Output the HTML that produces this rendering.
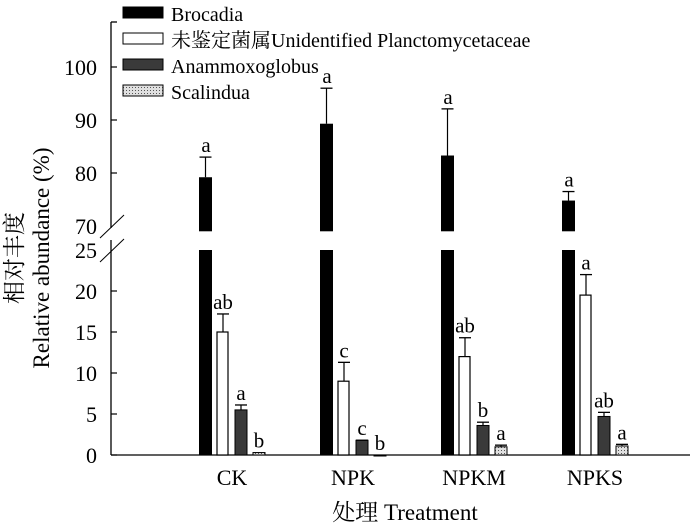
<!DOCTYPE html>
<html><head><meta charset="utf-8">
<style>
body{margin:0;background:#fff;}
svg text{font-family:"Liberation Serif","Noto Serif CJK SC",serif;fill:#000;}
</style></head>
<body>
<svg id="chart" width="700" height="524" xmlns="http://www.w3.org/2000/svg"></svg>
<script>
const categories=["CK","NPK","NPKM","NPKS"];
const brocadia=[79.2,89.3,83.3,74.8];
const brocadiaErr=[3.8,6.7,8.8,1.7];
const brocadiaLbl=["a","a","a","a"];
const unident=[15,9,12,19.5];
const unidentErr=[2.2,2.3,2.3,2.5];
const unidentLbl=["ab","c","ab","a"];
const anammox=[5.5,1.8,3.6,4.7];
const anammoxErr=[0.6,0,0.4,0.5];
const anammoxLbl=["a","c","b","ab"];
const scalindua=[0.3,0,1,1.1];
const scalinduaErr=[0,0,0.2,0.2];
const scalinduaLbl=["b","b","a","a"];
const lowerTicks=[0,5,10,15,20,25];
const upperTicks=[70,80,90,100];

const svg=document.getElementById('chart');
const NS="http://www.w3.org/2000/svg";
const FF='"Liberation Serif","Noto Serif CJK SC",serif';
const FL='"Liberation Serif",serif';
function el(t,a,p){const e=document.createElementNS(NS,t);for(const k in a)e.setAttribute(k,a[k]);(p||svg).appendChild(e);return e;}
const AX=111, Y0=455;
function yLow(v){return Y0-v*8.2;}
function yUp(v){return 226-(v-70)*5.3;}
function xCat(i){return 205+i*121;}

let a=el('line',{x1:AX,y1:240,x2:AX,y2:Y0,stroke:'#000','stroke-width':1.3});

a=el('line',{x1:AX,y1:22,x2:AX,y2:228,stroke:'#000','stroke-width':1.3});

el('line',{x1:AX,y1:22,x2:AX+6,y2:22,stroke:'#000','stroke-width':1.3});
a=el('line',{x1:AX,y1:Y0,x2:690,y2:Y0,stroke:'#000','stroke-width':1.3});

el('line',{x1:100,y1:238,x2:124,y2:215,stroke:'#000','stroke-width':1});
el('line',{x1:100,y1:262,x2:124,y2:239,stroke:'#000','stroke-width':1});
lowerTicks.forEach(v=>{const y=yLow(v);
 if(v<25) el('line',{x1:AX,y1:y,x2:AX+6,y2:y,stroke:'#000','stroke-width':1.2});
 const t=el('text',{x:AX-14,y:y+8,'text-anchor':'end','font-size':22,'font-family':FL});t.textContent=v;
 });
upperTicks.forEach(v=>{const y=yUp(v);
 if(v>70) el('line',{x1:AX,y1:y,x2:AX+6,y2:y,stroke:'#000','stroke-width':1.2});
 const t=el('text',{x:AX-14,y:y+8,'text-anchor':'end','font-size':22,'font-family':FL});t.textContent=v;
 });

const defs=el('defs',{});
const pat=el('pattern',{id:'dots',width:3,height:3,patternUnits:'userSpaceOnUse'},defs);
el('rect',{width:3,height:3,fill:'#e0e0e0'},pat);
el('rect',{width:1,height:1,fill:'#555'},pat);

function errbar(x,yTop,yErr){el('line',{x1:x,y1:yTop,x2:x,y2:yErr,stroke:'#000','stroke-width':1.2});
 el('line',{x1:x-6,y1:yErr,x2:x+6,y2:yErr,stroke:'#000','stroke-width':1.3});}
function lbl(x,y,s){const t=el('text',{x:x,y:y,'text-anchor':'middle','font-size':21,'font-family':FL});t.textContent=s;
 }

categories.forEach((c,i)=>{
 const x=xCat(i);
 let b=el('rect',{x:x-6,y:yLow(25),width:13,height:Y0-yLow(25),fill:'#000'});
 
 b=el('rect',{x:x-6,y:yUp(brocadia[i]),width:13,height:yUp(69)-yUp(brocadia[i]),fill:'#000'});
 
 const ye=yUp(brocadia[i]+brocadiaErr[i]);errbar(x+0.5,yUp(brocadia[i]),ye);lbl(x+1,ye-5,brocadiaLbl[i]);
 let ux=x+18;
 b=el('rect',{x:ux-6,y:yLow(unident[i]),width:11,height:Y0-yLow(unident[i]),fill:'#fff',stroke:'#000','stroke-width':1.2});
 
 let ye2=yLow(unident[i]+unidentErr[i]);errbar(ux,yLow(unident[i]),ye2);lbl(ux,ye2-5,unidentLbl[i]);
 let ax=x+36;
 b=el('rect',{x:ax-6,y:yLow(anammox[i]),width:12,height:Y0-yLow(anammox[i]),fill:'#3a3a3a',stroke:'#000','stroke-width':1});
 
 let ye3=yLow(anammox[i]+anammoxErr[i]);errbar(ax,yLow(anammox[i]),ye3);lbl(ax,ye3-5,anammoxLbl[i]);
 let sx=x+54;
 b=el('rect',{x:sx-6,y:yLow(scalindua[i]),width:12,height:Math.max(1,Y0-yLow(scalindua[i])),fill:'url(#dots)',stroke:'#000','stroke-width':1});
 
 let ye4=yLow(scalindua[i]+scalinduaErr[i]);if(scalinduaErr[i]>0)errbar(sx,yLow(scalindua[i]),ye4);lbl(sx,ye4-5,scalinduaLbl[i]);
 const t=el('text',{x:x+27,y:485,'text-anchor':'middle','font-size':22,'font-family':FL});t.textContent=c;
 
});

let t=el('text',{x:405,y:520,'text-anchor':'middle','font-size':23,'font-family':FF});t.textContent="处理 Treatment";

t=el('text',{x:0,y:0,'text-anchor':'middle','font-size':23,'font-family':FF,transform:'translate(22,258) rotate(-90)'});t.textContent="相对丰度";

t=el('text',{x:0,y:0,'text-anchor':'middle','font-size':23,'font-family':FL,transform:'translate(49,258) rotate(-90)'});t.textContent="Relative abundance (%)";


const legCn=["","未鉴定菌属","",""];
const legEn=["Brocadia","Unidentified Planctomycetaceae","Anammoxoglobus","Scalindua"];
const legFill=['#000','#fff','#3a3a3a','url(#dots)'];
legEn.forEach((l,i)=>{const y=4+i*26;
 const r=el('rect',{x:123,y:y+3,width:40,height:11,fill:legFill[i],stroke:'#000','stroke-width':1});
 
 const tx=el('text',{x:171,y:y+17,'font-size':20,'font-family':FL});
 
 if(legCn[i]){const s=el('tspan',{'font-family':'"Noto Serif CJK SC",serif'},tx);s.textContent=legCn[i];}
 const s2=el('tspan',{'font-family':FL},tx);s2.textContent=l;
});
</script>
</body></html>
